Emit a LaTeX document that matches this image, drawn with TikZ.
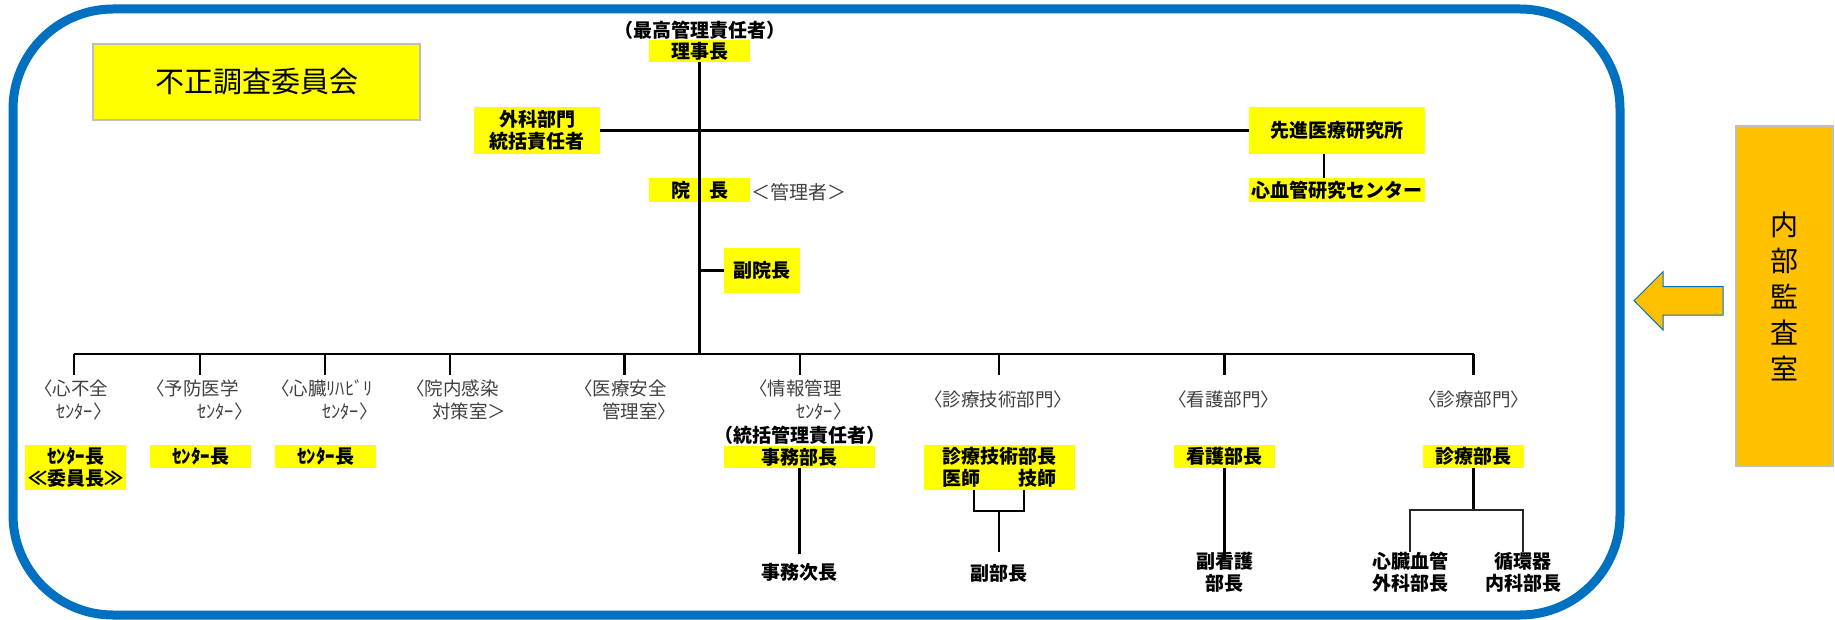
\documentclass[tikz,border=0pt]{standalone}
\usepackage{fontspec}
\newfontfamily\jp{Noto Sans CJK JP}
\usetikzlibrary{calc}
\definecolor{frameblue}{HTML}{0070C0}
\definecolor{ylw}{HTML}{FFFF00}
\definecolor{orng}{HTML}{FFC000}
\definecolor{boxgray}{HTML}{BFBFBF}
\definecolor{labgray}{HTML}{404040}
\begin{document}
\begin{tikzpicture}[x=1pt,y=-1pt,
  ybox/.style={fill=ylw, inner sep=0pt, align=center, font=\jp\bfseries\fontsize{19}{22}\selectfont},
  btext/.style={inner sep=0pt, align=center, font=\jp\bfseries\fontsize{19}{22}\selectfont},
  glab/.style={inner sep=0pt, anchor=west, text=labgray, font=\jp\fontsize{18.5}{22}\selectfont},
  conn/.style={line width=2.2pt, black},
  thinconn/.style={line width=1.6pt, black!85}]
\useasboundingbox (0,0) rectangle (1835,620);

% frame
\draw[frameblue, line width=9pt, rounded corners=100pt] (13,9) rectangle (1620,615);

% committee box
\node[fill=ylw, draw=boxgray, line width=1.5pt, minimum width=327pt, minimum height=76pt, inner sep=0pt,
  font=\jp\fontsize{29}{34}\selectfont] (fusei) at (256.5,82) {不正調査委員会};

% top part
\node[btext] (saikou) at (700,30) {（最高管理責任者）};
\node[ybox, minimum width=101pt, minimum height=22pt] (riji) at (699.5,51) {理事長};
\node[ybox, minimum width=126pt, minimum height=47pt] (geka) at (537,130.5) {外科部門\\統括責任者};
\node[ybox, minimum width=176pt, minimum height=47pt] (senshin) at (1337,130.5) {先進医療研究所};
\node[ybox, minimum width=176pt, minimum height=24pt] (shinken) at (1337,190) {心血管研究センター};
\node[ybox, minimum width=101pt, minimum height=24pt] (incho) at (699.5,190) {院　長};
\node[glab, font=\jp\fontsize{19}{22}\selectfont] (kanri) at (751,192) {＜管理者＞};
\node[ybox, minimum width=76pt, minimum height=45pt] (fukuin) at (762,270.5) {副院長};

% bus coordinates
\coordinate (b1) at (74,354);   \coordinate (t1) at (74,375);
\coordinate (b2) at (200,354);  \coordinate (t2) at (200,375);
\coordinate (b3) at (325,354);  \coordinate (t3) at (325,375);
\coordinate (b4) at (450,354);  \coordinate (t4) at (450,375);
\coordinate (b5) at (624.5,354);\coordinate (t5) at (624.5,375);
\coordinate (b6) at (800,354);  \coordinate (t6) at (800,375);
\coordinate (b7) at (999,354);  \coordinate (t7) at (999,375);
\coordinate (b8) at (1224.5,354); \coordinate (t8) at (1224.5,375);
\coordinate (b9) at (1473.5,354); \coordinate (t9) at (1473.5,375);

% top connectors
\draw[conn] (geka.east) -- (senshin.west);
\draw[conn] (riji.south) -- (riji.south |- b1);
\draw[conn] (fukuin.west) -- (fukuin.west -| riji.south);
\draw[conn] ([xshift=-13pt]senshin.south) -- ([xshift=-13pt]senshin.south |- shinken.north);
\draw[conn] (b1) -- (b9);
\foreach \i in {1,...,9} { \draw[conn] (b\i) -- (t\i); }

% department labels
\node[glab] (l1a) at (34,388) {〈心不全};
\node[glab] (l1b) at (56,411) {ｾﾝﾀｰ〉};
\node[glab] (l2a) at (146,388) {〈予防医学};
\node[glab] (l2b) at (197,411) {ｾﾝﾀｰ〉};
\node[glab] (l3a) at (271,388) {〈心臓ﾘﾊﾋﾞﾘ};
\node[glab] (l3b) at (322,411) {ｾﾝﾀｰ〉};
\node[glab] (l4a) at (406,388) {〈院内感染};
\node[glab] (l4b) at (432,411) {対策室＞};
\node[glab] (l5a) at (574,388) {〈医療安全};
\node[glab] (l5b) at (602,411) {管理室〉};
\node[glab] (l6a) at (749,388) {〈情報管理};
\node[glab] (l6b) at (796,411) {ｾﾝﾀｰ〉};
\node[glab] (l7) at (924,399) {〈診療技術部門〉};
\node[glab] (l8) at (1168,399) {〈看護部門〉};
\node[glab] (l9) at (1418,399) {〈診療部門〉};

% heads
\node[ybox, minimum width=101pt, minimum height=45pt] (c1) at (75.5,467.5) {ｾﾝﾀｰ長\\≪委員長≫};
\node[ybox, minimum width=101pt, minimum height=23pt] (c2) at (200.5,456.5) {ｾﾝﾀｰ長};
\node[ybox, minimum width=101pt, minimum height=23pt] (c3) at (325.5,456.5) {ｾﾝﾀｰ長};

\node[btext] (tokatsu) at (800,435) {（統括管理責任者）};
\node[ybox, minimum width=151pt, minimum height=22pt] (jimu) at (799.5,457) {事務部長};
\node[btext] (jimuji) at (799.5,572) {事務次長};
\draw[conn] (jimu.south) -- ([yshift=9pt]jimuji.north);

\node[ybox, minimum width=151pt, minimum height=45pt] (gijutsu) at (999.5,467.5) {診療技術部長\\医師　　技師};
\coordinate (gl) at (974,511);
\coordinate (gr) at (1024,511);
\coordinate (gm) at (999,511);
\draw[conn] (gl |- gijutsu.south) -- (gl) -- (gr) -- (gr |- gijutsu.south);
\node[btext] (fukubu) at (999,573) {副部長};
\draw[conn] (gm) -- ([yshift=12pt]fukubu.north);

\node[ybox, minimum width=101pt, minimum height=23pt] (kango) at (1224.5,456.5) {看護部長};
\node[btext] (fukukango) at (1224.5,572) {副看護\\部長};
\draw[conn] (kango.south) -- ([yshift=-8pt]fukukango.north);

\node[ybox, minimum width=101pt, minimum height=23pt] (shinryo) at (1473.5,456.5) {診療部長};
\coordinate (sm) at (1473.5,510);
\node[btext] (kekkan) at (1410,572) {心臓血管\\外科部長};
\node[btext] (junkan) at (1523,572) {循環器\\内科部長};
\draw[conn] (shinryo.south) -- (sm);
\draw[thinconn] (kekkan.north) -- (kekkan.north |- sm) -- (junkan.north |- sm) -- (junkan.north);

% internal audit
\node[fill=orng, draw=boxgray, line width=1.5pt, minimum width=97pt, minimum height=340pt, inner sep=0pt,
  align=center, font=\jp\fontsize{28}{36}\selectfont] (naibu) at (1784.5,296) {内\\部\\監\\査\\室};
\draw[fill=orng, draw=frameblue, line width=1pt] (1634,300.7) -- (1663,271.7) -- (1663,286.7) -- (1723,286.7)
  -- (1723,315) -- (1663,315) -- (1663,330) -- cycle;
\end{tikzpicture}
\end{document}
